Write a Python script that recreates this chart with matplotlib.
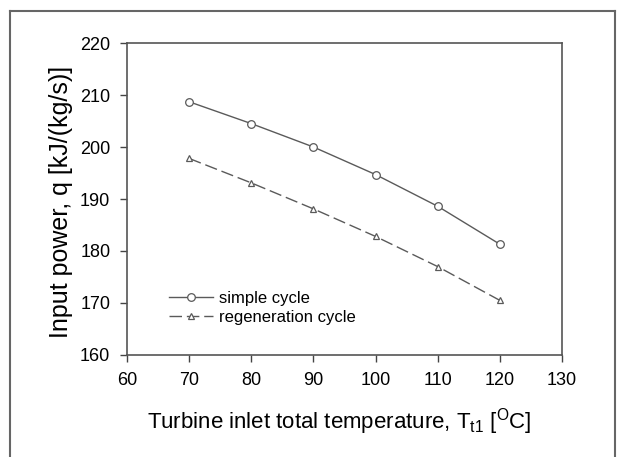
import matplotlib
matplotlib.use("Agg")
import matplotlib.pyplot as plt
from matplotlib.lines import Line2D

# data
temps = [70, 80, 90, 100, 110, 120]
simple_cycle = [208.7, 204.5, 200.0, 194.7, 188.6, 181.3]
regen_cycle = [197.8, 193.1, 188.1, 182.8, 177.0, 170.5]

x_ticks = [60, 70, 80, 90, 100, 110, 120, 130]
y_ticks = [160, 170, 180, 190, 200, 210, 220]

plt.rcParams['font.family'] = ['Liberation Sans', 'DejaVu Sans']

fig = plt.figure(figsize=(6.18, 4.57), dpi=100)
ax = fig.add_axes([0.2055, 0.2232, 0.7039, 0.6827])

line_col = '#5a5a5a'
ax.plot(temps, simple_cycle, '-', color=line_col, lw=1.0, marker='o', ms=5.5,
        mfc='white', mec=line_col, mew=0.9, label='simple cycle')
ax.plot(temps, regen_cycle, color=line_col, lw=1.0, ls=(0, (9, 3.5)), marker='^', ms=5,
        mfc='white', mec=line_col, mew=0.9, label='regeneration cycle')

ax.set_xlim(60, 130)
ax.set_ylim(160, 220)
ax.set_xticks(x_ticks)
ax.set_yticks(y_ticks)
ax.tick_params(direction='out', length=5, width=1, color='#444444', labelsize=13, pad=7)
ax.tick_params(top=False, right=False)
for s in ax.spines.values():
    s.set_color('#555555')
    s.set_linewidth(1.2)

ax.set_xlabel(r'Turbine inlet total temperature, T$_{\mathregular{t1}}$ [$^{\mathregular{O}}$C]', fontsize=16)
ax.set_ylabel('Input power, q [kJ/(kg/s)]', fontsize=18)
ax.xaxis.set_label_coords(0.487, -0.165)
ax.yaxis.set_label_coords(-0.124, 0.49)

ax.legend(loc='lower left', bbox_to_anchor=(0.078, 0.07), frameon=False, fontsize=12,
          handlelength=2.6, handletextpad=0.4, labelspacing=0.25, borderpad=0)

# outer frame around the figure
frame_kw = dict(color='#666666', lw=1.5, transform=fig.transFigure)
fig.add_artist(Line2D([10/618, 10/618], [0, 1 - 11/457], **frame_kw))
fig.add_artist(Line2D([10/618, 615/618], [1 - 11/457, 1 - 11/457], **frame_kw))
fig.add_artist(Line2D([615/618, 615/618], [0, 1 - 11/457], **frame_kw))

fig.savefig('out.png', dpi=100)
